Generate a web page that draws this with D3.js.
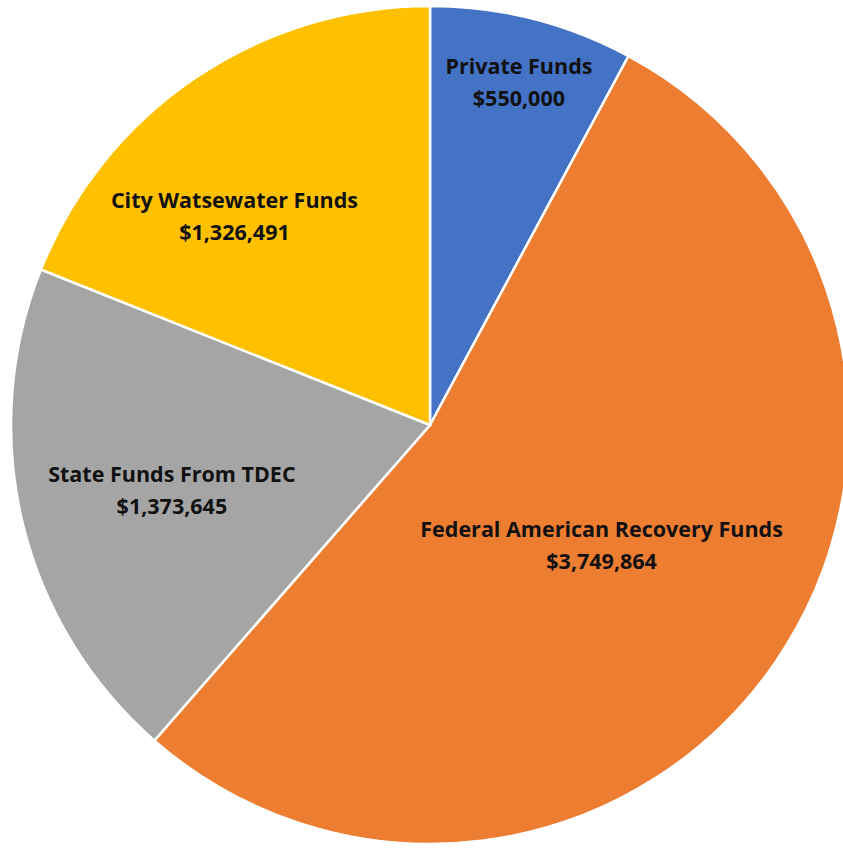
<!DOCTYPE html>
<html>
<head>
<meta charset="utf-8">
<script src="https://cdn.jsdelivr.net/npm/d3@7"></script>
<style>
  body { margin: 0; background: #fff; }
  text { font-family: "Open Sans", "Noto Sans", sans-serif; font-weight: 700; }
</style>
</head>
<body>
<script>
const names = ["Private Funds", "Federal American Recovery Funds", "State Funds From TDEC", "City Watsewater Funds"];
const amounts = [550000, 3749864, 1373645, 1326491];
const colors = ["#4472C4", "#ED7D31", "#A5A5A5", "#FFC000"];

// label placement: fraction of radius, angle nudge in degrees
const labelAt = [[0.845, 0.4], [0.5, 0.3], [0.635, -0.5], [0.683, -9]];

const width = 843, height = 849;
const cx = 430, cy = 425, radius = 419;

const svg = d3.select("body").append("svg")
  .attr("width", width)
  .attr("height", height);

const g = svg.append("g").attr("transform", `translate(${cx},${cy})`);

const pie = d3.pie().sort(null).value(d => d.v);
const data = pie(amounts.map((v, i) => ({ v: v, name: names[i], i: i })));

const arc = d3.arc().innerRadius(0).outerRadius(radius);

g.selectAll("path")
  .data(data)
  .enter()
  .append("path")
  .attr("d", arc)
  .attr("fill", d => colors[d.data.i])
  .attr("stroke", "#fff")
  .attr("stroke-width", 2.5);

const fmt = d3.format("$,");

const labels = g.selectAll("text.lbl")
  .data(data)
  .enter()
  .append("text")
  .attr("class", "lbl")
  .attr("text-anchor", "middle")
  .attr("font-size", 21.5)
  .attr("fill", "#111")
  .attr("transform", d => {
    const p = labelAt[d.data.i];
    const a = (d.startAngle + d.endAngle) / 2 + p[1] * Math.PI / 180;
    const [x, y] = d3.pointRadial(a, radius * p[0]);
    return `translate(${x},${y})`;
  });

labels.append("tspan").attr("x", 0).attr("y", -8).text(d => d.data.name);
labels.append("tspan").attr("x", 0).attr("y", 24).text(d => fmt(d.data.v));
</script>
</body>
</html>
